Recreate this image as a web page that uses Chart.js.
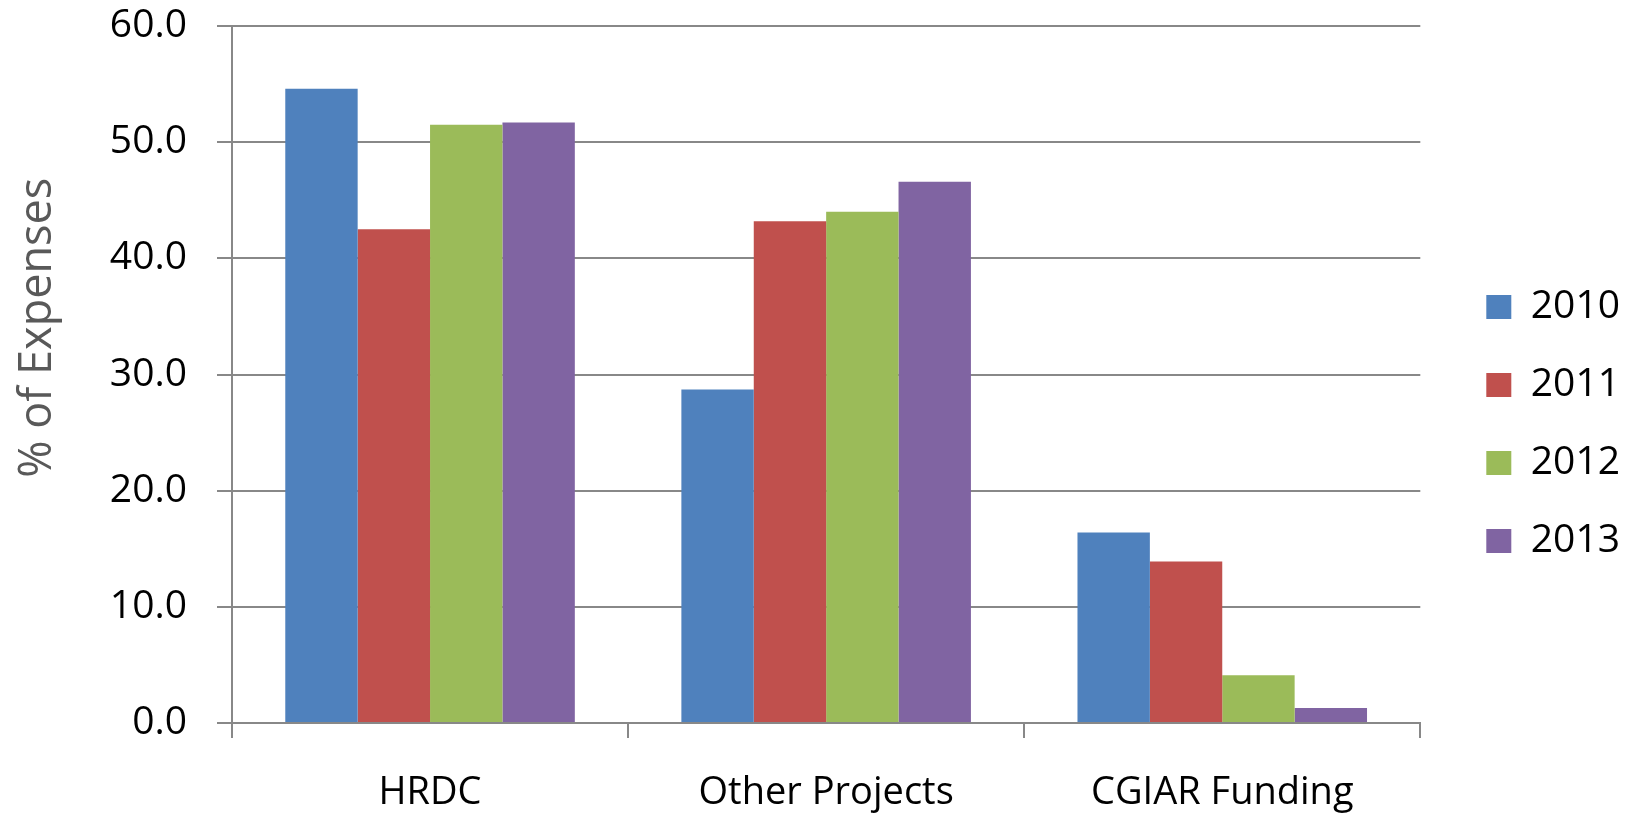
<!DOCTYPE html>
<html>
<head>
<meta charset="utf-8">
<title>% of Expenses</title>
<script src="https://cdn.jsdelivr.net/npm/chart.js@4.4.0/dist/chart.umd.min.js"></script>
<style>
  html, body { margin: 0; padding: 0; background: #ffffff; }
  #wrap { width: 1637px; height: 816px; }
</style>
</head>
<body>
<div id="wrap"><canvas id="chart" width="1637" height="816"></canvas></div>
<script>
// categories + series
var categories = ['HRDC', 'Other Projects', 'CGIAR Funding'];
var years = ['2010', '2011', '2012', '2013'];
var values2010 = [54.6, 28.7, 16.4];
var values2011 = [42.5, 43.2, 13.9];
var values2012 = [51.5, 44.0, 4.1];
var values2013 = [51.7, 46.6, 1.3];
var yTicks = [0, 10, 20, 30, 40, 50, 60];
var yTitle = '% of Expenses';

var colors = ['#4F81BD', '#C0504D', '#9BBB59', '#8064A2'];
var gridColor = '#888888';
var fontFamily = "'Open Sans', 'Noto Sans', sans-serif";

// nudge the legend a bit (right + down) so the boxes sit where Excel put them
var legendNudge = {
  id: 'legendNudge',
  afterLayout: function(chart) {
    var lg = chart.legend;
    if (!lg) return;
    var dx = 27, dy = 3;
    lg.left += dx;
    lg.right += dx;
    lg.top += dy;
    lg.bottom += dy;
  }
};

function makeDataset(label, data, color) {
  return {
    label: label,
    data: data,
    backgroundColor: color,
    borderWidth: 0,
    categoryPercentage: 0.731,
    barPercentage: 1.0
  };
}

window.onload = function() {
  var ctx = document.getElementById('chart').getContext('2d');
  var allSeries = [values2010, values2011, values2012, values2013];
  var datasets = [];
  for (var i = 0; i < years.length; i++) {
    datasets.push(makeDataset(years[i], allSeries[i], colors[i]));
  }

  new Chart(ctx, {
    type: 'bar',
    data: {
      labels: categories,
      datasets: datasets
    },
    plugins: [legendNudge],
    options: {
      responsive: false,
      animation: false,
      devicePixelRatio: 1,
      layout: {
        padding: { top: 26, right: 34, bottom: 0, left: 0 }
      },
      scales: {
        x: {
          grid: {
            display: true,
            drawOnChartArea: false,
            drawTicks: true,
            tickLength: 15,
            color: gridColor,
            lineWidth: 2,
            offset: true
          },
          border: { display: true, color: gridColor, width: 2 },
          ticks: {
            color: '#000000',
            padding: 32,
            font: { family: fontFamily, size: 38 }
          },
          afterFit: function(scale) {
            scale.height = 93;
          }
        },
        y: {
          min: 0,
          max: 60,
          afterBuildTicks: function(scale) {
            scale.ticks = yTicks.map(function(v) { return { value: v }; });
          },
          grid: {
            color: gridColor,
            lineWidth: 2,
            tickLength: 15
          },
          border: { display: true, color: gridColor, width: 2 },
          ticks: {
            color: '#000000',
            padding: 30,
            font: { family: fontFamily, size: 39 },
            callback: function(v) { return Number(v).toFixed(1); }
          },
          title: {
            display: true,
            // leading spaces move the title up a bit, like the original
            text: '        ' + yTitle,
            color: '#595959',
            font: { family: fontFamily, size: 45, weight: 'normal' },
            padding: { top: 11, bottom: 0 }
          },
          afterFit: function(scale) {
            scale.width = 232;
            // the layout padding already leaves room for the top label
            scale.paddingTop = 0;
            scale.paddingBottom = 0;
          }
        }
      },
      plugins: {
        legend: {
          display: true,
          position: 'right',
          align: 'center',
          labels: {
            boxWidth: 25,
            boxHeight: 24,
            padding: 39,
            color: '#000000',
            font: { family: fontFamily, size: 39 }
          }
        },
        tooltip: { enabled: false },
        title: { display: false }
      }
    }
  });
};
</script>
</body>
</html>
